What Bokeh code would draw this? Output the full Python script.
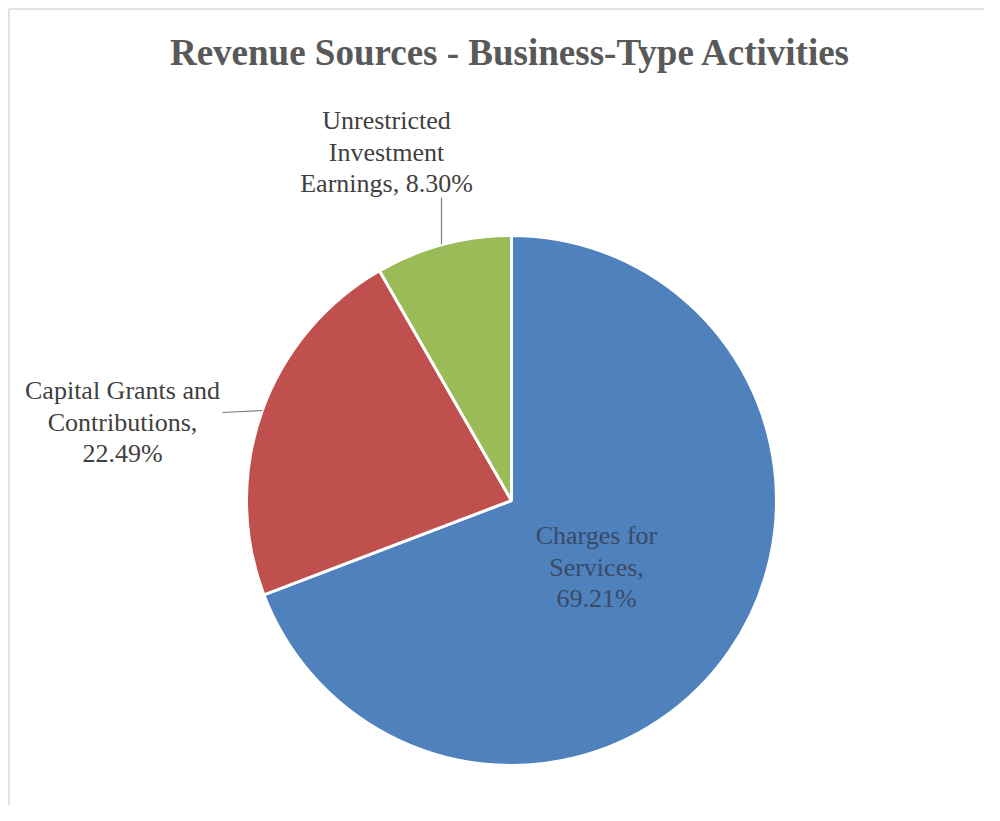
import math
from bokeh.plotting import figure
from bokeh.models import Range1d, ColumnDataSource
from bokeh.core.properties import value
from bokeh.embed import file_html
from bokeh.resources import INLINE

title_text = "Revenue Sources - Business-Type Activities"
categories = ["Charges for Services", "Capital Grants and Contributions", "Unrestricted Investment Earnings"]
percents = [69.21, 22.49, 8.30]
colors = ["#4F81BD", "#C0504D", "#9BBB59"]
label_lines = [
    ["Charges for", "Services,", "69.21%"],
    ["Capital Grants and", "Contributions,", "22.49%"],
    ["Unrestricted", "Investment", "Earnings, 8.30%"],
]

W, H = 984, 805
p = figure(width=W, height=H, output_backend="svg", toolbar_location=None,
           x_range=Range1d(0, W), y_range=Range1d(0, H), min_border=0)
p.axis.visible = False
p.grid.visible = False
p.outline_line_color = None
p.background_fill_color = "white"

def py(y):  # screen pixel -> data y
    return H - y
def px(x):
    return x

# border (left and top)
p.segment(x0=[8.5, 8.5], y0=[0, py(8.5)], x1=[8.5, W], y1=[py(8.5), py(8.5)],
          line_color="#D9D9D9", line_width=1.5)

cx, cy, r = px(511), py(500), 265
total = sum(percents)
starts, ends = [], []
cum = 0.0
for v in percents:
    end = math.pi / 2 - 2 * math.pi * cum / total
    cum += v
    start = math.pi / 2 - 2 * math.pi * cum / total
    starts.append(start)
    ends.append(end)

src = ColumnDataSource(dict(cat=categories, pct=percents, start=starts, end=ends, color=colors))
p.wedge(x=cx, y=cy, radius=r, start_angle="start", end_angle="end", fill_color="color",
        line_color="white", line_width=3, source=src)

# leader lines
p.segment(x0=[px(441), px(222)], y0=[py(197), py(412)], x1=[px(441), px(262)], y1=[py(244), py(410)],
          line_color="#7F7F7F", line_width=1.2)

# labels
label_pos = [(596, 535), (122, 390), (386, 120)]
line_gap = 31.5
for lines, (lx, ly), col in zip(label_lines, label_pos, ["#3A4A66", "#404040", "#404040"]):
    xs = [px(lx)] * len(lines)
    ys = [py(ly + i * line_gap) for i in range(len(lines))]
    p.text(x=xs, y=ys, text=lines, text_font=value("Liberation Serif"), text_font_size="26px",
           text_color=col, text_align="center", text_baseline="middle")

p.text(x=[px(510)], y=[py(52)], text=[title_text], text_font=value("Liberation Serif"),
       text_font_size="37px", text_font_style="bold", text_color="#595959",
       text_align="center", text_baseline="middle")

open("out.html", "w").write(file_html(p, INLINE))
